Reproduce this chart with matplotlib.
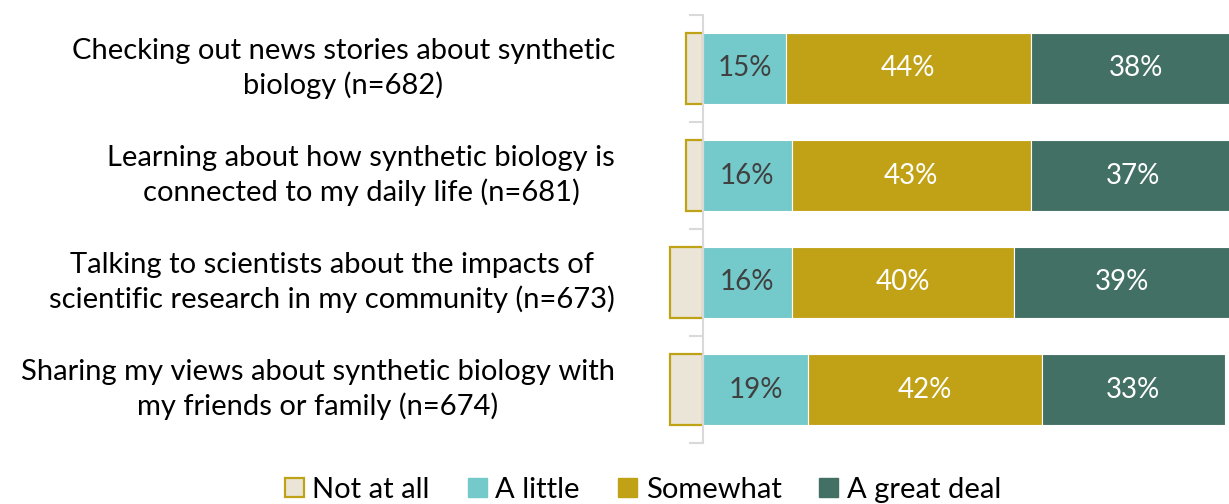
import matplotlib
matplotlib.use("Agg")
import matplotlib.pyplot as plt
from matplotlib.patches import Patch
from matplotlib.transforms import blended_transform_factory

categories = [
    "Checking out news stories about synthetic\nbiology (n=682)",
    "Learning about how synthetic biology is\nconnected to my daily life (n=681)",
    "Talking to scientists about the impacts of\nscientific research in my community (n=673)",
    "Sharing my views about synthetic biology with\nmy friends or family (n=674)",
]
not_at_all = [3, 3, 6, 6]
a_little = [15, 16, 16, 19]
somewhat = [44, 43, 40, 42]
great_deal = [38, 37, 39, 33]
series_names = ["Not at all", "A little", "Somewhat", "A great deal"]

c_not = "#EAE5D6"
c_not_edge = "#C0A216"
c_little = "#74C9CB"
c_some = "#C1A216"
c_great = "#437064"

plt.rcParams['font.family'] = ['Lato', 'DejaVu Sans']

fig = plt.figure(figsize=(12.29, 5.04), dpi=100)
W, H = 1229, 504
ax = fig.add_axes([660 / W, 61 / H, 569 / W, 428 / H])

n = len(categories)
ypos = [n - 0.5 - i for i in range(n)]
h = 0.67

ax.barh(ypos, [-v for v in not_at_all], height=h, left=0, color=c_not,
        edgecolor=c_not_edge, linewidth=1.6, zorder=2)
ax.barh(ypos, a_little, height=h, left=0, color=c_little, edgecolor="white",
        linewidth=0.8, zorder=2)
left2 = a_little
ax.barh(ypos, somewhat, height=h, left=left2, color=c_some, edgecolor="white",
        linewidth=0.8, zorder=2)
left3 = [a + b for a, b in zip(a_little, somewhat)]
ax.barh(ypos, great_deal, height=h, left=left3, color=c_great, edgecolor="white",
        linewidth=0.8, zorder=2)

fs_val = 20
for i, y in enumerate(ypos):
    ax.text(a_little[i] / 2, y, f"{a_little[i]}%", ha="center", va="center",
            fontsize=fs_val, color="#404040", zorder=3)
    ax.text(left2[i] + somewhat[i] / 2, y, f"{somewhat[i]}%", ha="center",
            va="center", fontsize=fs_val, color="white", zorder=3)
    ax.text(left3[i] + great_deal[i] / 2, y, f"{great_deal[i]}%", ha="center",
            va="center", fontsize=fs_val, color="white", zorder=3)

ax.set_xlim(-7.74, 94.73)
ax.set_ylim(0, n)
for s in ["top", "right", "bottom"]:
    ax.spines[s].set_visible(False)
ax.spines["left"].set_position(("data", 0))
ax.spines["left"].set_color("#D9D9D9")
ax.spines["left"].set_linewidth(1.5)
ax.spines["left"].set_zorder(3)
ax.set_xticks([])
ax.set_yticks(range(n + 1))
ax.set_yticklabels([])
ax.tick_params(axis="y", length=10, width=1.5, color="#D9D9D9", direction="out")

trans = blended_transform_factory(fig.transFigure, ax.transData)
for i, y in enumerate(ypos):
    ax.text(615 / W, y, categories[i], transform=trans, ha="right", va="center",
            multialignment="center", fontsize=21, color="black", linespacing=1.32)

handles = [
    Patch(facecolor=c_not, edgecolor=c_not_edge, linewidth=1.6),
    Patch(facecolor=c_little, edgecolor=c_little),
    Patch(facecolor=c_some, edgecolor=c_some),
    Patch(facecolor=c_great, edgecolor=c_great),
]
fig.legend(handles, series_names, loc="center", bbox_to_anchor=(643 / W, 1 - 490 / H),
           ncol=4, frameon=False, fontsize=21, handlelength=0.65, handleheight=0.65,
           handletextpad=0.3, columnspacing=1.3, borderpad=0)

fig.savefig("out.png", dpi=100)
